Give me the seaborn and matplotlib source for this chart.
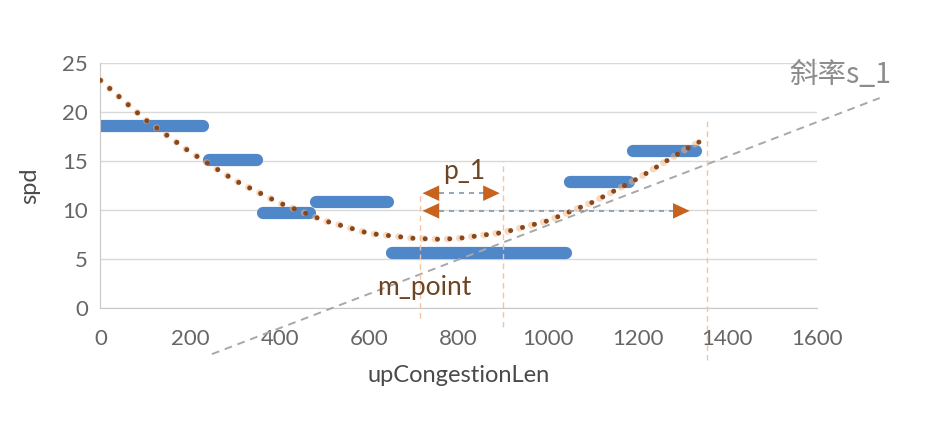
import pandas as pd
import matplotlib.pyplot as plt
import seaborn as sns

# tramos de velocidad (barras azules)
seg_start = [0, 242, 362, 481, 652, 1049, 1190]
seg_end = [228, 350, 467, 641, 1040, 1181, 1330]
seg_spd = [18.5, 15.1, 9.7, 10.8, 5.6, 12.8, 16.0]

# curva de tendencia punteada
trend_x = [0, 100, 200, 300, 400, 500, 600, 700, 760, 800, 900, 1000, 1100, 1200, 1250, 1300, 1340]
trend_y = [23.2, 19.2, 15.9, 13.0, 10.7, 8.9, 7.6, 7.1, 7.0, 7.1, 7.7, 8.9, 10.8, 13.2, 14.6, 16.0, 17.0]

# recta de pendiente s_1
s1_x = [249, 1740]
s1_y = [-4.7, 21.4]

# lineas guia verticales y flechas
vline_x = [713, 898, 1355]
vline_top = [11.7, 15.0, 19.2]
vline_bottom = [-1.0, -1.9, -5.3]
arrow_y = [11.7, 9.9]
arrow_x0 = [713, 713]
arrow_x1 = [898, 1322]

xticks = [0, 200, 400, 600, 800, 1000, 1200, 1400, 1600]
yticks = [0, 5, 10, 15, 20, 25]

sns.set_style("white")
plt.rcParams["font.family"] = ["Lato", "Noto Sans CJK SC", "DejaVu Sans"]

rows = []
for i in range(len(seg_spd)):
    rows.append({"seg": i, "x": seg_start[i], "spd": seg_spd[i]})
    rows.append({"seg": i, "x": seg_end[i], "spd": seg_spd[i]})
df_seg = pd.DataFrame(rows)

fig = plt.figure(figsize=(9.46, 4.26), dpi=100)
ax = fig.add_axes([0.1062, 0.277, 0.7574, 0.5758])

blue = "#4f87c9"
orange = "#c8621c"

sns.lineplot(data=df_seg, x="x", y="spd", units="seg", estimator=None,
             color=blue, lw=8.8, solid_capstyle="round", ax=ax, zorder=2)

sns.lineplot(x=s1_x, y=s1_y, color="#a8a8a8", lw=1.4, linestyle=(0, (4, 3)),
             clip_on=False, ax=ax, zorder=3)

for x, t, b in zip(vline_x, vline_top, vline_bottom):
    ax.plot([x, x], [b, t], color="#f4c4a2", lw=1.0, linestyle=(0, (4, 3)),
            clip_on=False, zorder=3)

# halo naranja + puntos marrones
sns.lineplot(x=trend_x, y=trend_y, sort=False, color="#f3b27f", lw=5.0,
             linestyle=(0, (0.01, 1.75)), dash_capstyle="round", alpha=0.5,
             ax=ax, zorder=4)
sns.lineplot(x=trend_x, y=trend_y, sort=False, color="#8a471c", lw=3.6,
             linestyle=(0, (0.01, 2.45)), dash_capstyle="round", ax=ax, zorder=4)

for y, x0, x1 in zip(arrow_y, arrow_x0, arrow_x1):
    ax.plot([x0 + 20, x1 - 20], [y, y], color="#8196ad", lw=1.2,
            linestyle=(0, (3, 3)), zorder=5)
    for tip, tail in [(x0, x0 + 30), (x1, x1 - 30)]:
        ax.annotate("", xy=(tip, y), xytext=(tail, y),
                    arrowprops=dict(arrowstyle="-|>,head_length=0.75,head_width=0.35",
                                    color=orange, lw=0, mutation_scale=16),
                    zorder=6)

ax.text(813, 13.9, "p_1", color="#6e4522", fontsize=19, ha="center", va="center")
ax.text(617, 2.1, "m_point", color="#6e4522", fontsize=19, ha="left", va="center")
ax.text(1539, 23.75, "斜率s_1", color="#8c8c8c", fontsize=20.5, ha="left", va="center",
        family=["Noto Sans CJK SC"])

ax.set_xlim(0, 1600)
ax.set_ylim(0, 25)
ax.set_xticks(xticks)
ax.set_yticks(yticks)
ax.yaxis.grid(True, color="#d9d9d9", lw=1)
ax.xaxis.grid(False)
for side in ["top", "right"]:
    ax.spines[side].set_visible(False)
for side in ["left", "bottom"]:
    ax.spines[side].set_color("#c8c8c8")
ax.tick_params(axis="both", colors="#c8c8c8", labelcolor="#666666", labelsize=16,
               length=5, width=1, direction="out")
ax.tick_params(axis="x", pad=10)
ax.tick_params(axis="y", pad=4)
ax.set_xlabel("upCongestionLen", color="#4a4a4a", fontsize=17, labelpad=12)
ax.set_ylabel("spd", color="#4a4a4a", fontsize=17, labelpad=16)

fig.savefig("out.png", dpi=100)
